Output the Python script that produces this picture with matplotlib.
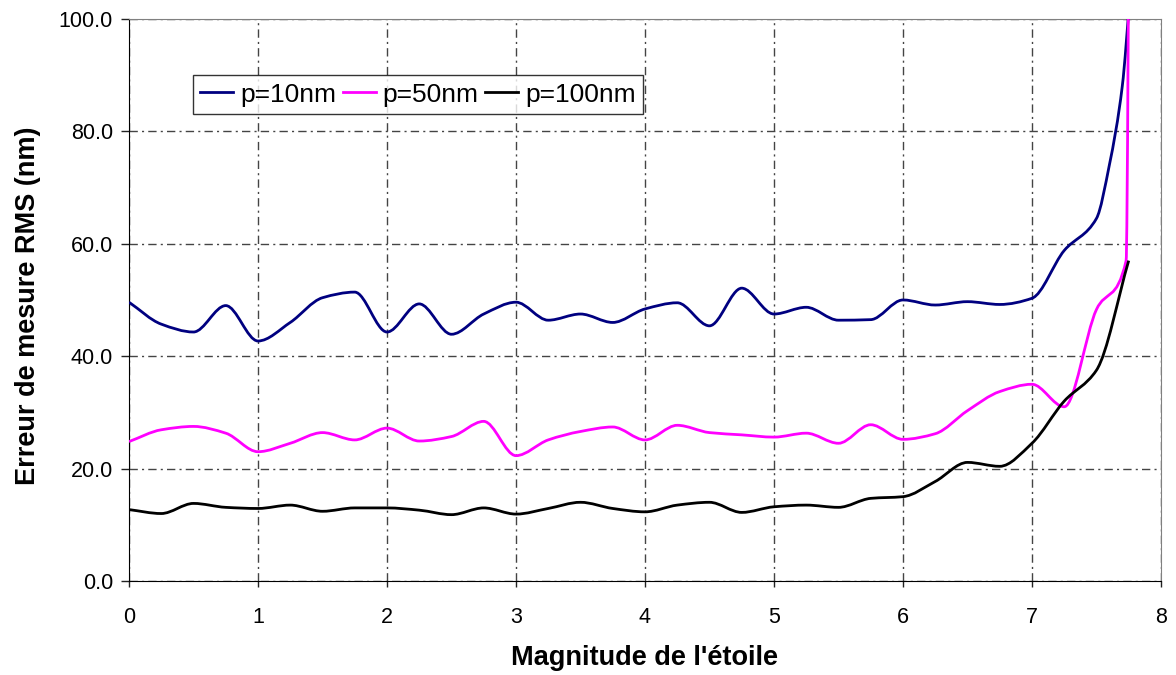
import numpy as np
import matplotlib
matplotlib.use("Agg")
import matplotlib.pyplot as plt
from matplotlib.path import Path
from matplotlib.patches import PathPatch
from matplotlib.lines import Line2D

plt.rcParams['font.family'] = ['Liberation Sans', 'DejaVu Sans']

# magnitude de l'étoile (pas de 0.25 jusqu'à 7.5)
mag = [0, 0.25, 0.5, 0.75, 1, 1.25, 1.5, 1.75, 2, 2.25, 2.5, 2.75, 3, 3.25, 3.5, 3.75,
       4, 4.25, 4.5, 4.75, 5, 5.25, 5.5, 5.75, 6, 6.25, 6.5, 6.75, 7, 7.25, 7.5]

# erreur RMS (nm)
p10 = [49.6, 45.7, 44.3, 49.0, 42.7, 46.0, 50.4, 51.4, 44.3, 49.3, 43.9, 47.5, 49.6, 46.4,
       47.5, 46.0, 48.4, 49.5, 45.4, 52.1, 47.5, 48.7, 46.4, 46.5, 50.0, 49.1, 49.7, 49.2,
       50.3, 58.8, 64.5]
p50 = [24.8, 26.9, 27.5, 26.3, 23.0, 24.5, 26.4, 25.1, 27.2, 24.9, 25.7, 28.4, 22.3, 25.1,
       26.6, 27.4, 25.1, 27.7, 26.4, 26.0, 25.6, 26.3, 24.5, 27.8, 25.2, 26.2, 30.3, 33.7,
       35.0, 31.0, 48.3]
p100 = [12.7, 12.0, 13.8, 13.1, 12.9, 13.5, 12.4, 13.0, 13.0, 12.6, 11.8, 13.0, 11.9, 12.9,
        14.0, 12.9, 12.3, 13.5, 14.0, 12.2, 13.2, 13.5, 13.1, 14.7, 15.0, 17.7, 21.1, 20.4,
        24.5, 32.0, 37.5]

# fin des courbes (divergence)
p10_tail_x = [7.6, 7.7, 7.76]
p10_tail_y = [74, 88, 104]
p50_tail_x = [7.73, 7.76]
p50_tail_y = [57, 150]
p100_tail_x = [7.75]
p100_tail_y = [57]

labels = ['p=10nm', 'p=50nm', 'p=100nm']
colors = ['#000080', '#FF00FF', '#000000']


def smooth_path(x, y):
    # monotone cubic (pchip-like) drawn as bezier segments
    x = np.asarray(x, float)
    y = np.asarray(y, float)
    h = np.diff(x)
    d = np.diff(y) / h
    m = np.zeros_like(y)
    m[0], m[-1] = d[0], d[-1]
    for k in range(1, len(x) - 1):
        if d[k - 1] * d[k] > 0:
            w1 = 2 * h[k] + h[k - 1]
            w2 = h[k] + 2 * h[k - 1]
            m[k] = (w1 + w2) / (w1 / d[k - 1] + w2 / d[k])
    verts = [(x[0], y[0])]
    codes = [Path.MOVETO]
    for k in range(len(x) - 1):
        verts += [(x[k] + h[k] / 3, y[k] + m[k] * h[k] / 3),
                  (x[k + 1] - h[k] / 3, y[k + 1] - m[k + 1] * h[k] / 3),
                  (x[k + 1], y[k + 1])]
        codes += [Path.CURVE4] * 3
    return Path(verts, codes)


fig = plt.figure(figsize=(11.76, 6.75), dpi=100)
ax = fig.add_axes([0.1097, 0.1393, 0.8775, 0.8326])

series = [(p10, p10_tail_x, p10_tail_y), (p50, p50_tail_x, p50_tail_y),
          (p100, p100_tail_x, p100_tail_y)]
handles = []
for (vals, tx, ty), lab, c in zip(series, labels, colors):
    path = smooth_path(mag + tx, vals + ty)
    ax.add_patch(PathPatch(path, fill=False, edgecolor=c, lw=2.0, zorder=3))
    handles.append(Line2D([], [], color=c, lw=2.0, label=lab))

ax.set_xlim(0, 8)
ax.set_ylim(0, 100)
ax.set_xticks(range(0, 9))
ax.set_yticks(np.arange(0, 101, 20))
ax.set_yticklabels(['%.1f' % v for v in np.arange(0, 101, 20)])
ax.tick_params(labelsize=15.5, width=1, color='#222222', direction='out')
ax.tick_params(axis='x', length=4, pad=15)
ax.tick_params(axis='y', length=5.5, pad=6)
ax.grid(True, color='#444444', linestyle=(0, (6, 3, 1.5, 3)), linewidth=1)
ax.set_axisbelow(True)
for s in ['top', 'right']:
    ax.spines[s].set_color('#808080')
for s in ['left', 'bottom']:
    ax.spines[s].set_color('#000000')

ax.set_xlabel("Magnitude de l'étoile", fontsize=19.5, fontweight='bold')
ax.set_ylabel('Erreur de mesure RMS (nm)', fontsize=19.5, fontweight='bold')
ax.xaxis.set_label_coords(0.5, -0.114)
ax.yaxis.set_label_coords(-0.085, 0.49)

leg = ax.legend(handles=handles, loc='upper left', bbox_to_anchor=(0.062, 0.832, 0.436, 0.068),
                mode='expand', ncol=3, fontsize=19, frameon=True, fancybox=False,
                handlelength=1.25, handletextpad=0.25, columnspacing=0.45,
                borderpad=0.28, borderaxespad=0)
leg.get_frame().set_edgecolor('black')
leg.get_frame().set_linewidth(1.0)

fig.savefig('out.png', dpi=100)
